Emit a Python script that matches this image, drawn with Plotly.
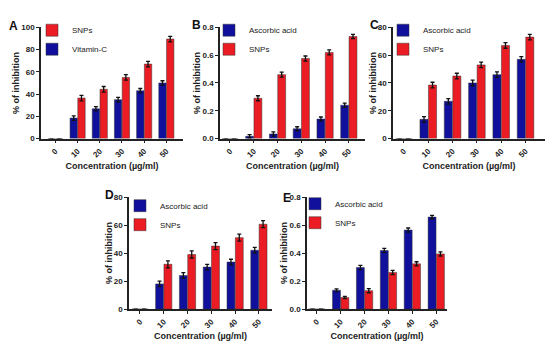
import plotly.graph_objects as go

categories = ["0", "10", "20", "30", "40", "50"]

# Panel A
a_vitc = [0, 18.4, 26.8, 35.0, 43.0, 50.0]
a_snps = [0, 36.4, 44.3, 55.0, 67.0, 89.5]
a_err_vitc = [0, 2, 2, 2, 2, 2]
a_err_snps = [0, 2.5, 2.5, 2.5, 2.5, 2.5]
# Panel B
b_asc = [0, 0.016, 0.033, 0.07, 0.14, 0.24]
b_snps = [0, 0.29, 0.46, 0.576, 0.62, 0.735]
b_err_asc = [0, 0.012, 0.015, 0.015, 0.015, 0.015]
b_err_snps = [0, 0.018, 0.018, 0.018, 0.018, 0.015]
# Panel C
c_asc = [0, 13.8, 26.8, 40.0, 46.0, 57.0]
c_snps = [0, 38.5, 45.0, 53.0, 67.0, 73.0]
c_err_asc = [0, 2, 2, 2, 2, 2]
c_err_snps = [0, 2, 2, 2, 2, 2]
# Panel D
d_asc = [0, 18.0, 24.0, 30.0, 33.6, 42.0]
d_snps = [0, 32.0, 39.0, 45.0, 51.0, 60.6]
d_err_asc = [0, 2, 2, 2, 2, 2]
d_err_snps = [0, 2.5, 2.5, 2.5, 2.5, 2.5]
# Panel E
e_asc = [0, 0.135, 0.297, 0.418, 0.564, 0.657]
e_snps = [0, 0.083, 0.132, 0.262, 0.323, 0.394]
e_err_asc = [0, 0.01, 0.015, 0.015, 0.015, 0.012]
e_err_snps = [0, 0.008, 0.015, 0.015, 0.015, 0.015]

y_ticks_pct_100 = [0, 20, 40, 60, 80, 100]
y_ticks_pct_80 = [0, 20, 40, 60, 80]
y_ticks_frac = [0.0, 0.2, 0.4, 0.6, 0.8]
y_ticktext_frac = ["0.0", "0.2", "0.4", "0.6", "0.8"]

BLUE = "#10109c"
RED = "#ec1c24"
W, H = 550, 358
FONT = "Liberation Sans"

fig = go.Figure()

def px_x(p):
    return p / W

def px_y(p):
    return 1 - p / H

panels = [
    dict(letter="A", ax="", xd=(41, 183), yd=(24, 138), xr=[-0.65, 5.75], ymax=100,
         tv=y_ticks_pct_100, tt=None,
         blue=("Vitamin-C", a_vitc, a_err_vitc), red=("SNPs", a_snps, a_err_snps), red_first=True,
         leg=(32, 12), lab=(7, 13)),
    dict(letter="B", ax="2", xd=(220, 365), yd=(24, 138), xr=[-0.42, 5.68], ymax=0.8,
         tv=y_ticks_frac, tt=y_ticktext_frac,
         blue=("Ascorbic acid", b_asc, b_err_asc), red=("SNPs", b_snps, b_err_snps), red_first=False,
         leg=(209, 12), lab=(190, 12)),
    dict(letter="C", ax="3", xd=(393, 545), yd=(24, 138), xr=[-0.45, 5.8], ymax=80,
         tv=y_ticks_pct_80, tt=None,
         blue=("Ascorbic acid", c_asc, c_err_asc), red=("SNPs", c_snps, c_err_snps), red_first=False,
         leg=(383, 12), lab=(368, 12)),
    dict(letter="D", ax="4", xd=(129, 272), yd=(198, 313), xr=[-0.46, 5.55], ymax=80,
         tv=y_ticks_pct_80, tt=None,
         blue=("Ascorbic acid", d_asc, d_err_asc), red=("SNPs", d_snps, d_err_snps), red_first=False,
         leg=(120, 192), lab=(103, 187)),
    dict(letter="E", ax="5", xd=(307, 447), yd=(198, 313), xr=[-0.41, 5.45], ymax=0.8,
         tv=y_ticks_frac, tt=y_ticktext_frac,
         blue=("Ascorbic acid", e_asc, e_err_asc), red=("SNPs", e_snps, e_err_snps), red_first=False,
         leg=(295, 190), lab=(281, 190)),
]

axis_common = dict(
    showline=True, linecolor="#222", linewidth=1.6, showgrid=False, zeroline=False,
    ticks="outside", ticklen=3, tickwidth=1.3, tickcolor="#222",
    tickfont=dict(family=FONT, size=8, color="#222", weight="bold"),
)

for i, p in enumerate(panels):
    ax = p["ax"]
    legname = "legend" if i == 0 else f"legend{i+1}"
    xa = "x" + ax
    ya = "y" + ax
    for key, color, rank in (("blue", BLUE, 2 if p["red_first"] else 1), ("red", RED, 1 if p["red_first"] else 2)):
        name, vals, errs = p[key]
        fig.add_trace(go.Bar(
            x=categories, y=vals, name=name, xaxis=xa, yaxis=ya,
            marker=dict(color=color, line=dict(color="#333", width=0.5)),
            error_y=dict(type="data", array=errs, visible=True, color="#111", thickness=1.3, width=2),
            legend=legname, legendrank=rank, hoverinfo="skip",
        ))
    fig.layout["xaxis" + ax] = dict(
        domain=[px_x(p["xd"][0]), px_x(p["xd"][1])], anchor=ya, range=p["xr"],
        type="category", categoryorder="array", categoryarray=categories,
        tickangle=-45,
        title=dict(text="Concentration (µg/ml)", font=dict(family=FONT, size=9, color="#222", weight="bold"), standoff=4),
        **axis_common,
    )
    yd = dict(
        domain=[px_y(p["yd"][1]), px_y(p["yd"][0])], anchor=xa, range=[0, p["ymax"]],
        tickvals=p["tv"],
        title=dict(text="% of inhibition", font=dict(family=FONT, size=9, color="#222", weight="bold"), standoff=0),
        **axis_common,
    )
    if p["tt"] is not None:
        yd["ticktext"] = p["tt"]
    fig.layout["yaxis" + ax] = yd
    fig.layout[legname] = dict(
        x=px_x(p["leg"][0]), y=px_y(p["leg"][1]), xanchor="left", yanchor="top",
        bgcolor="rgba(0,0,0,0)", font=dict(family=FONT, size=8, color="#222"),
        itemwidth=30, tracegroupgap=0, traceorder="normal",
    )
    fig.add_annotation(
        text=p["letter"], x=px_x(p["lab"][0]), y=px_y(p["lab"][1]), xref="paper", yref="paper",
        xanchor="left", yanchor="top", showarrow=False,
        font=dict(family=FONT, size=12, color="#111", weight="bold"),
    )

fig.update_layout(
    width=W, height=H, margin=dict(l=0, r=0, t=0, b=0),
    paper_bgcolor="white", plot_bgcolor="white",
    barmode="group", bargap=0.3, bargroupgap=0.05,
    showlegend=True,
)

fig.write_html(
    "out.html",
    config={"displayModeBar": False},
    post_script="document.body.style.margin='0px';",
)
